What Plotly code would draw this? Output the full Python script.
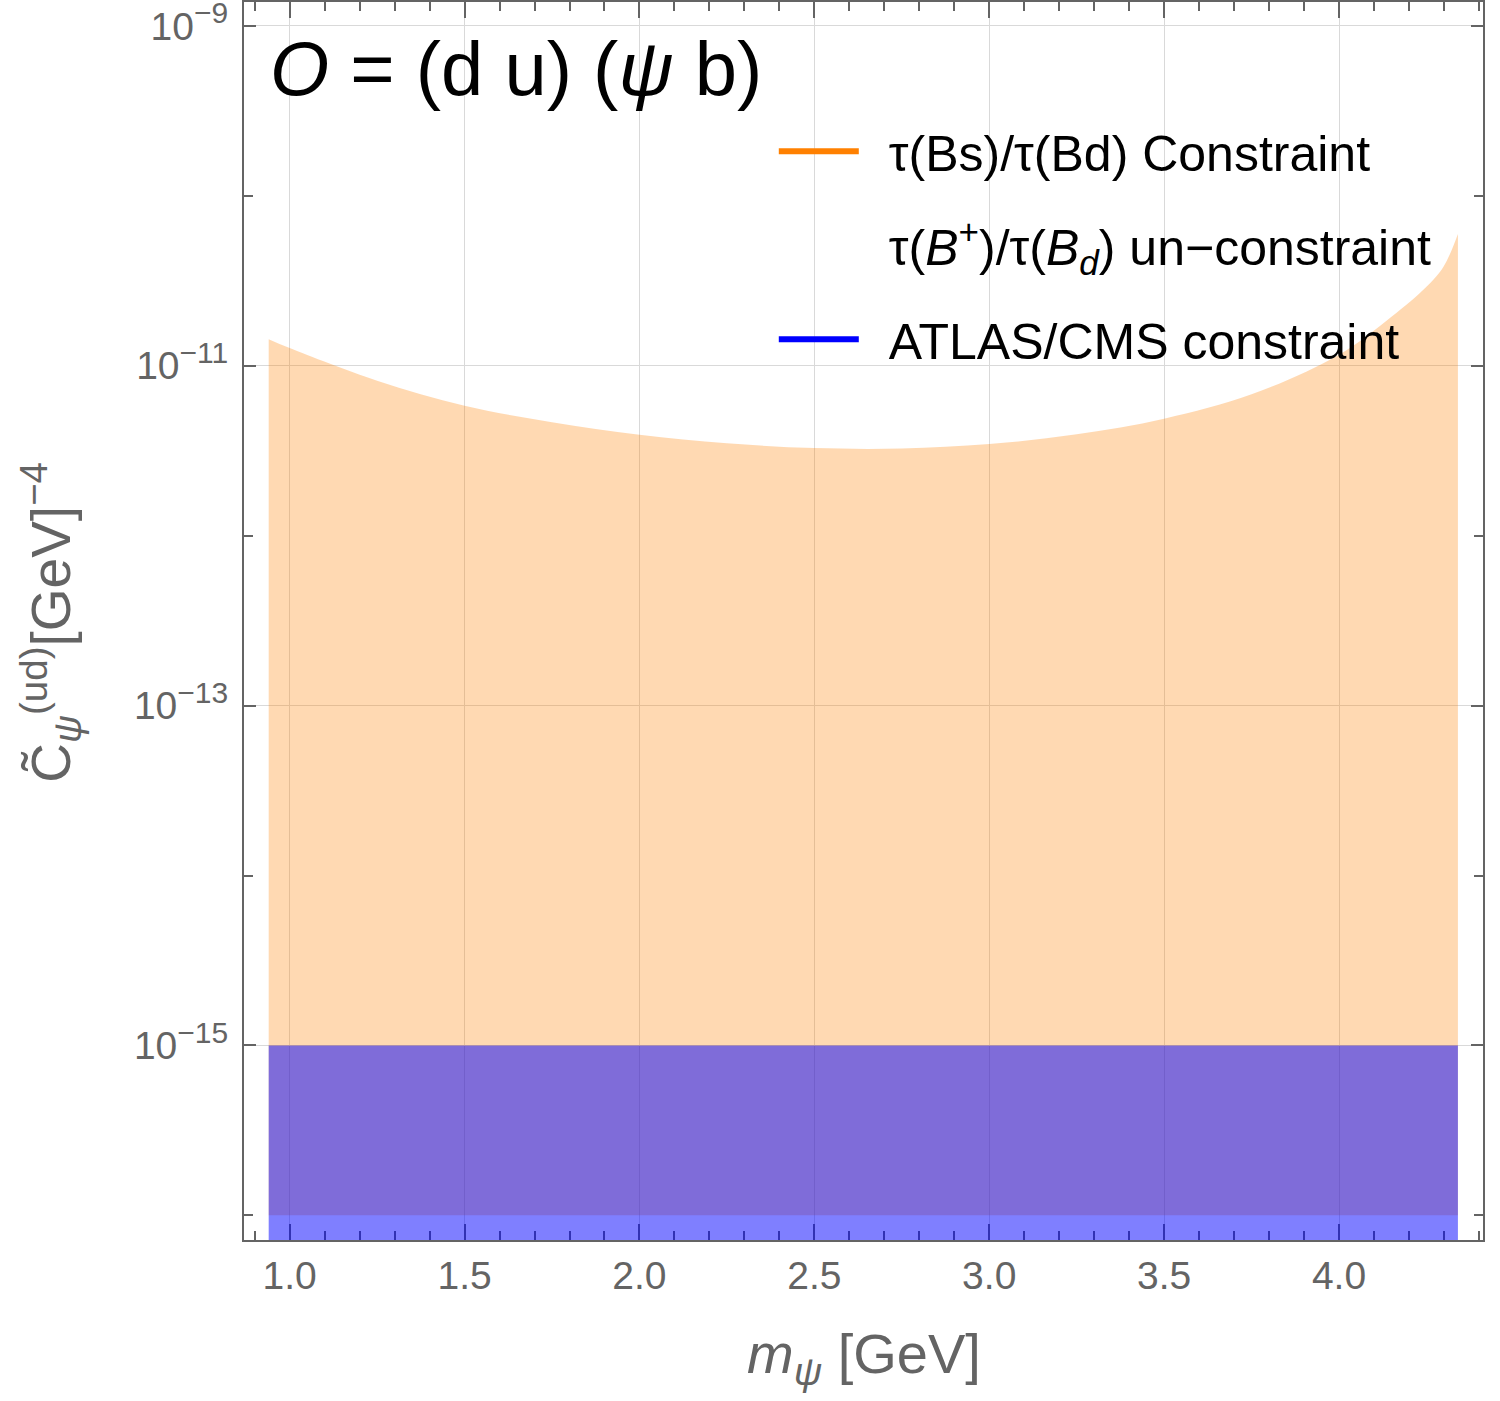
import plotly.graph_objects as go

# ---- data ----
m_psi = [0.94, 1.0, 1.25, 1.5, 1.75, 2.0, 2.25, 2.5, 2.75, 3.0, 3.25, 3.5,
         3.75, 4.0, 4.15, 4.25, 4.3, 4.34]
c_bound_bs = [1.435e-11, 1.271e-11, 8.17e-12, 5.82e-12, 4.66e-12, 3.93e-12,
              3.50e-12, 3.28e-12, 3.26e-12, 3.46e-12, 3.95e-12, 4.88e-12,
              6.79e-12, 1.161e-11, 1.941e-11, 2.917e-11, 3.87e-11, 5.97e-11]
m_span = [0.94, 4.34]
orange_lower = [1e-16, 1e-16]
atlas_upper = [1e-15, 1e-15]
atlas_lower = [1e-17, 1e-17]

x_ticks = [1.0, 1.5, 2.0, 2.5, 3.0, 3.5, 4.0]
y_ticks = [1e-15, 1e-13, 1e-11, 1e-9]
y_tick_exp = ["−15", "−13", "−11", "−9"]
y_minor = [1e-16, 1e-14, 1e-12, 1e-10]

legend_names = ["\u2002τ(Bs)/τ(Bd) Constraint",
                "\u2002τ(<i>B</i><sup>+</sup>)/τ(<i>B</i><sub><i>d</i></sub>) un−constraint",
                "\u2002ATLAS/CMS constraint"]

ORANGE = "#FF8000"
BLUE = "#0000FF"
GRAY = "#646464"
FONT = "Arial, Liberation Sans, sans-serif"

fig = go.Figure()

# orange band
fig.add_trace(go.Scatter(x=m_span, y=orange_lower, mode="lines",
                         line=dict(width=0, color=ORANGE), showlegend=False,
                         hoverinfo="skip"))
fig.add_trace(go.Scatter(x=m_psi, y=c_bound_bs, mode="lines",
                         line=dict(width=0, color=ORANGE, shape="spline", smoothing=1.0),
                         fill="tonexty", fillcolor="rgba(255,128,0,0.3)",
                         showlegend=False, hoverinfo="skip"))
# blue band
fig.add_trace(go.Scatter(x=m_span, y=atlas_lower, mode="lines",
                         line=dict(width=0, color=BLUE), showlegend=False,
                         hoverinfo="skip"))
fig.add_trace(go.Scatter(x=m_span, y=atlas_upper, mode="lines",
                         line=dict(width=0, color=BLUE),
                         fill="tonexty", fillcolor="rgba(0,0,255,0.5)",
                         showlegend=False, hoverinfo="skip"))

# legend entries
for name, col, grp in zip(legend_names, [ORANGE, "rgba(255,255,255,0)", BLUE], ["a", "b", "c"]):
    fig.add_trace(go.Scatter(x=[None], y=[None], mode="lines", name=name,
                             line=dict(color=col, width=6), legendgroup=grp))

axis_common = dict(
    showline=True, linecolor=GRAY, linewidth=2, mirror="allticks",
    ticks="inside", tickcolor=GRAY, tickwidth=1.5,
    showgrid=True, gridcolor="#d9d9d9", gridwidth=1.2,
    zeroline=False, layer="below traces", ticklabeloverflow="allow",
    automargin=False,
    tickfont=dict(family=FONT, size=39, color=GRAY),
)

fig.update_xaxes(
    range=[0.8694, 4.4117], tickvals=x_ticks, ticktext=[f"{v:.1f}" for v in x_ticks],
    ticklen=16,
    minor=dict(dtick=0.1, tick0=0, ticks="inside", ticklen=9, tickcolor=GRAY,
               tickwidth=1.5, showgrid=False),
    ticklabelstandoff=0,
    **axis_common)
fig.update_yaxes(
    type="log", range=[-16.145, -8.859], tickvals=y_ticks,
    ticktext=[f"10<sup><span style='font-size:30px'>{e}</span></sup>" for e in y_tick_exp],
    ticklen=12,
    minor=dict(tickvals=y_minor, ticks="inside", ticklen=9, tickcolor=GRAY,
               tickwidth=1.5, showgrid=False),
    ticklabelstandoff=6,
    **axis_common)

fig.add_annotation(text="<i>O</i> = (d u) (<i>ψ</i> b)", xref="paper", yref="paper",
                   x=0.019, y=0.946, xanchor="left", yanchor="middle", showarrow=False,
                   font=dict(family=FONT, size=76, color="black"))
fig.add_annotation(text="<i>m</i><sub><i>ψ</i></sub> [GeV]", xref="paper", yref="paper",
                   x=0.5, y=-0.0953, xanchor="center", yanchor="middle", showarrow=False,
                   font=dict(family=FONT, size=56, color=GRAY))
fig.add_annotation(text="C\u0303<sub><i>ψ</i></sub><sup>(ud)</sup>[GeV]<sup>−4</sup>",
                   xref="paper", yref="paper", textangle=-90,
                   x=-0.156, y=0.4992, xanchor="center", yanchor="middle", showarrow=False,
                   font=dict(family=FONT, size=55, color=GRAY))

fig.update_layout(
    width=1500, height=1401,
    margin=dict(l=244, r=17, t=2, b=161, autoexpand=False),
    paper_bgcolor="white", plot_bgcolor="white",
    showlegend=True,
    legend=dict(x=0.4276, y=0.911, xanchor="left", yanchor="top",
                bgcolor="rgba(0,0,0,0)", font=dict(family=FONT, size=50, color="black"),
                itemwidth=80, tracegroupgap=26, traceorder="grouped"),
)

fig.write_html("out.html")
